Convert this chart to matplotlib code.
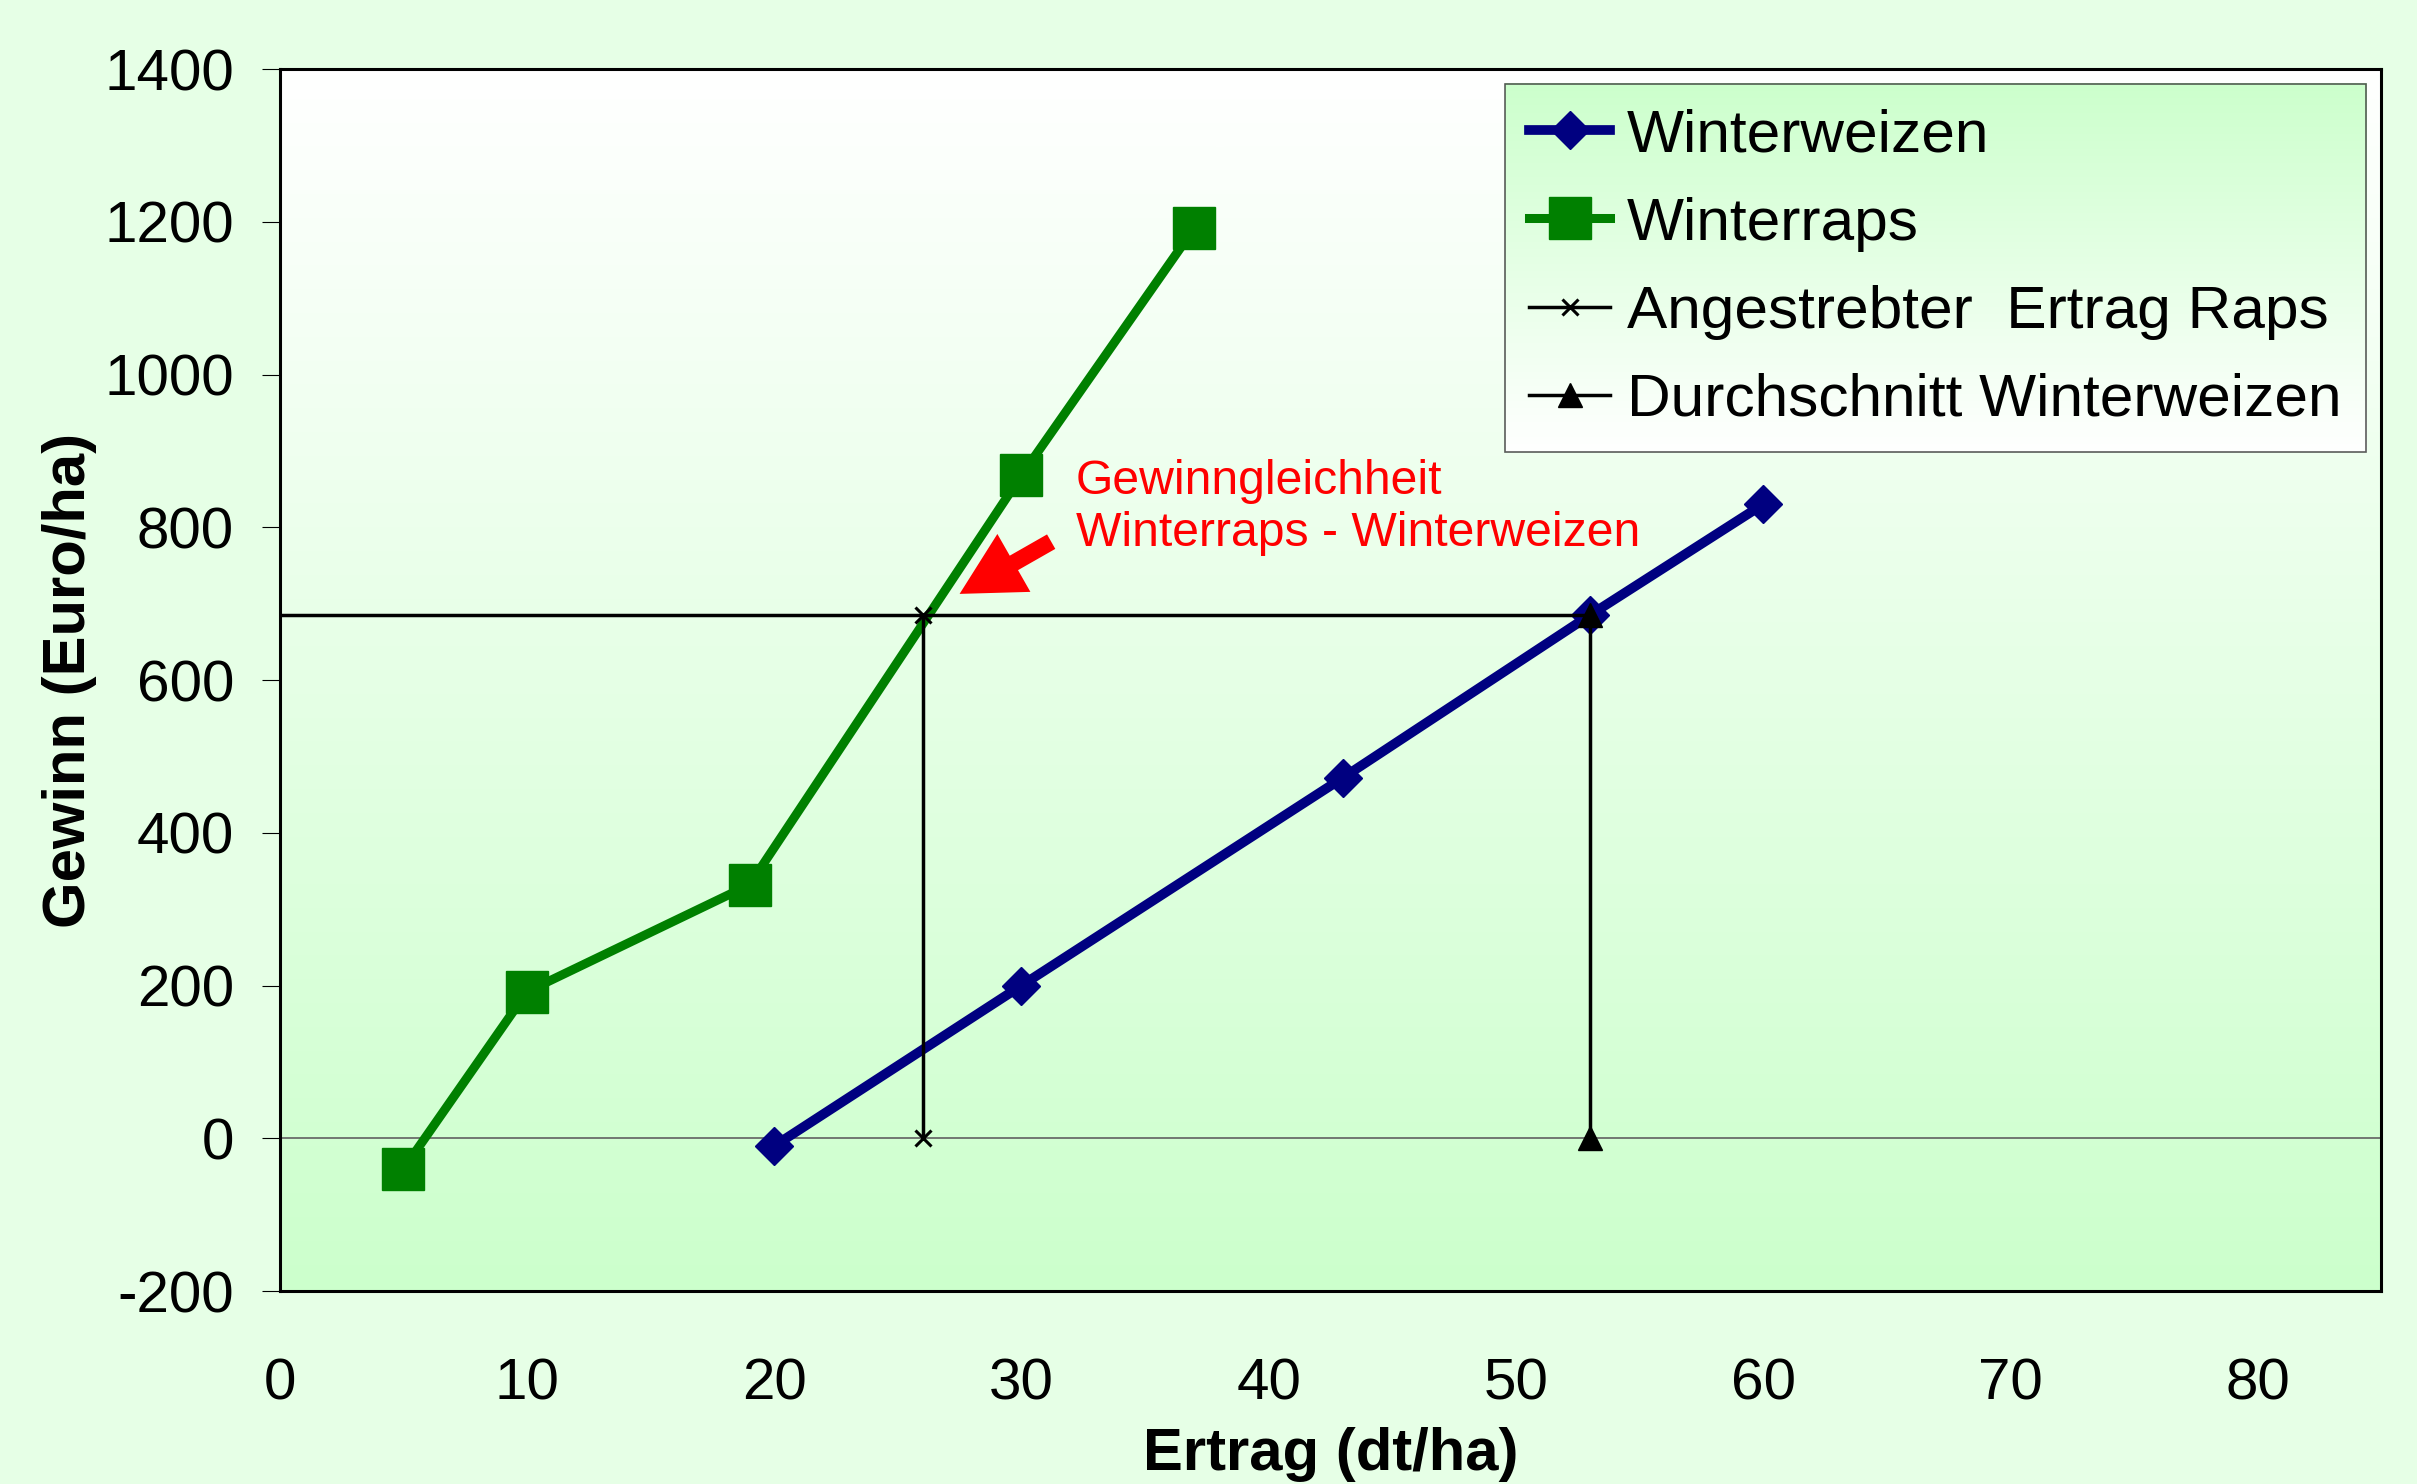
import matplotlib
matplotlib.use("Agg")
import matplotlib.pyplot as plt
import numpy as np
from matplotlib.colors import LinearSegmentedColormap

plt.rcParams["font.family"] = ["Liberation Sans", "DejaVu Sans"]
plt.rcParams["axes.unicode_minus"] = False

# Daten (Ertrag dt/ha, Gewinn Euro/ha)
weizen_x = [20, 30, 43, 53, 60]
weizen_y = [-10, 200, 472, 685, 830]

raps_x = [5, 10, 19, 30, 37]
raps_y = [-40, 192, 332, 868, 1192]

angestrebt_x = [26, 26]
angestrebt_y = [685, 0]

durchschnitt_x = [53, 53]
durchschnitt_y = [685, 0]

x_ticks = [0, 10, 20, 30, 40, 50, 60, 70, 80]
y_ticks = [-200, 0, 200, 400, 600, 800, 1000, 1200, 1400]

fig_bg = "#e6ffe6"
fig = plt.figure(figsize=(24.17, 14.84), dpi=100, facecolor=fig_bg)
ax = fig.add_axes([0.1158, 0.130, 0.8693, 0.8235])

# Hintergrund-Verlauf im Diagramm: oben weiss, unten hellgruen
verlauf = LinearSegmentedColormap.from_list("verlauf", ["#ffffff", "#ccffcc"])
grad = np.linspace(0, 1, 256).reshape(-1, 1)
ax.imshow(grad, cmap=verlauf, extent=[0, 1, 0, 1], transform=ax.transAxes,
          aspect="auto", zorder=0, interpolation="bilinear")
ax.set_facecolor("none")

ax.axhline(0, color="#606060", lw=1.2, zorder=1)

ax.plot(weizen_x, weizen_y, color="#000080", lw=7, marker="D", ms=19,
        label="Winterweizen", zorder=3)
ax.plot(raps_x, raps_y, color="#008000", lw=6.5, marker="s", ms=30,
        label="Winterraps", zorder=3)
ax.plot(angestrebt_x, angestrebt_y, color="black", lw=2.5, marker="x", ms=12,
        mew=2.2, label="Angestrebter  Ertrag Raps", zorder=4)
ax.plot([0, durchschnitt_x[0]], [durchschnitt_y[0], durchschnitt_y[0]],
        color="black", lw=2.5, zorder=4)
ax.plot(durchschnitt_x, durchschnitt_y, color="black", lw=2.5, marker="^",
        ms=17, label="Durchschnitt Winterweizen", zorder=4)

ax.annotate("", xy=(27.4, 711), xytext=(31.3, 783),
            arrowprops=dict(arrowstyle="simple,head_length=1.5,head_width=1.6,tail_width=0.4",
                            mutation_scale=30, color="red", lw=0))
ax.text(32.2, 826, "Gewinngleichheit\nWinterraps - Winterweizen", color="red",
        fontsize=34.7, ha="left", va="center", linespacing=1.2)

ax.set_xlim(0, 85)
ax.set_ylim(-200, 1400)
ax.set_xticks(x_ticks)
ax.set_yticks(y_ticks)
ax.tick_params(axis="x", length=0, pad=48, labelsize=42)
ax.tick_params(axis="y", length=13, width=0.8, pad=20, labelsize=42)

for s in ax.spines.values():
    s.set_linewidth(2.2)
    s.set_color("black")

ax.set_xlabel("Ertrag (dt/ha)", fontsize=43, fontweight="bold", labelpad=11)
ax.set_ylabel("Gewinn (Euro/ha)", fontsize=43, fontweight="bold", labelpad=5)

leg = ax.legend(loc="upper right", fontsize=43.5, frameon=True, fancybox=False,
                handlelength=1.35, handletextpad=0.28, labelspacing=0.55,
                borderpad=0.4, borderaxespad=0.25)
leg.get_frame().set_facecolor("none")
leg.get_frame().set_edgecolor("#333333")
leg.get_frame().set_linewidth(1.2)
leg.set_zorder(6)

# Verlauf hinter der Legende: oben gruen, unten weiss
fig.canvas.draw()
bb = leg.get_frame().get_window_extent().transformed(ax.transAxes.inverted())
ax.imshow(grad, cmap=verlauf.reversed(), extent=[bb.x0, bb.x1, bb.y0, bb.y1],
          transform=ax.transAxes, aspect="auto", zorder=5, interpolation="bilinear")
ax.set_xlim(0, 85)
ax.set_ylim(-200, 1400)

fig.savefig("out.png", dpi=100, facecolor=fig_bg)
